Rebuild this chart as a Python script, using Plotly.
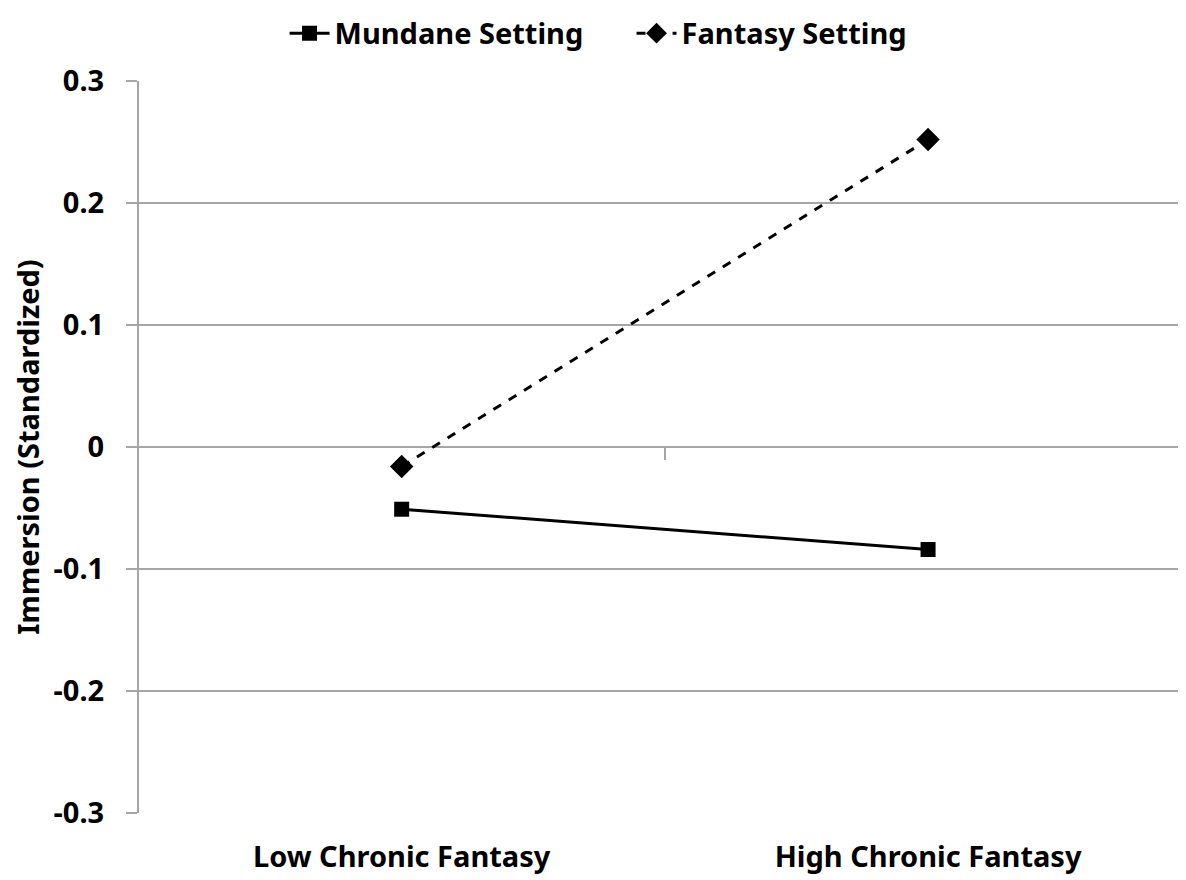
import plotly.graph_objects as go

categories = ["Low Chronic Fantasy", "High Chronic Fantasy"]
cat_pos = [0, 1]
mundane = [-0.051, -0.084]
fantasy = [-0.016, 0.252]
y_ticks = [-0.3, -0.2, -0.1, 0, 0.1, 0.2, 0.3]
y_ticktext = ["-0.3", "-0.2", "-0.1", "0", "0.1", "0.2", "0.3"]

FONT = "Noto Sans"
GRID = "#a6a6a6"

fig = go.Figure()
fig.add_trace(go.Scatter(
    x=cat_pos, y=mundane, name="Mundane Setting", mode="lines+markers",
    line=dict(color="black", width=3),
    marker=dict(symbol="square", size=15, color="black"),
))
fig.add_trace(go.Scatter(
    x=cat_pos, y=fantasy, name="Fantasy Setting", mode="lines+markers",
    line=dict(color="black", width=3, dash="dash"),
    marker=dict(symbol="diamond", size=18, color="black"),
))
# invisible trace to hold the secondary (zero-crossing) x axis
fig.add_trace(go.Scatter(x=cat_pos, y=[0, 0], xaxis="x2", mode="none",
                         showlegend=False, hoverinfo="skip"))

xr = [-0.499, 1.49]
fig.update_layout(
    width=1178, height=872,
    margin=dict(l=131, r=0, t=73, b=67, autoexpand=False),
    paper_bgcolor="white", plot_bgcolor="white",
    font=dict(family=FONT, color="black"),
    showlegend=True,
    legend=dict(orientation="h", x=0.139, y=1.1, xanchor="left", yanchor="top",
                font=dict(size=29, family=FONT, weight="bold"),
                entrywidth=292, itemwidth=40, bgcolor="rgba(0,0,0,0)"),
    xaxis=dict(range=xr, tickvals=cat_pos, ticktext=categories,
               showgrid=False, zeroline=False, showline=False, automargin=False,
               ticks="outside", ticklen=18, tickcolor="rgba(0,0,0,0)",
               tickfont=dict(size=29, family=FONT, weight="bold")),
    xaxis2=dict(range=xr, overlaying="x", anchor="free", position=0.5,
                tickvals=[0.5], ticks="outside", ticklen=12, tickwidth=2,
                tickcolor=GRID, showticklabels=False, showgrid=False,
                zeroline=False, showline=False, automargin=False),
    yaxis=dict(range=[-0.3, 0.3], tickvals=y_ticks, ticktext=y_ticktext,
               showgrid=True, gridcolor=GRID, gridwidth=2, automargin=False,
               zeroline=False, showline=True, linecolor=GRID, linewidth=2,
               ticks="outside", ticklen=11, tickwidth=2, tickcolor=GRID,
               ticklabelstandoff=16,
               tickfont=dict(size=29, family=FONT, weight="bold"),
               title=dict(text="Immersion (Standardized)", standoff=8,
                          font=dict(size=29, family=FONT, weight="bold"))),
)
fig.write_html("out.html")
